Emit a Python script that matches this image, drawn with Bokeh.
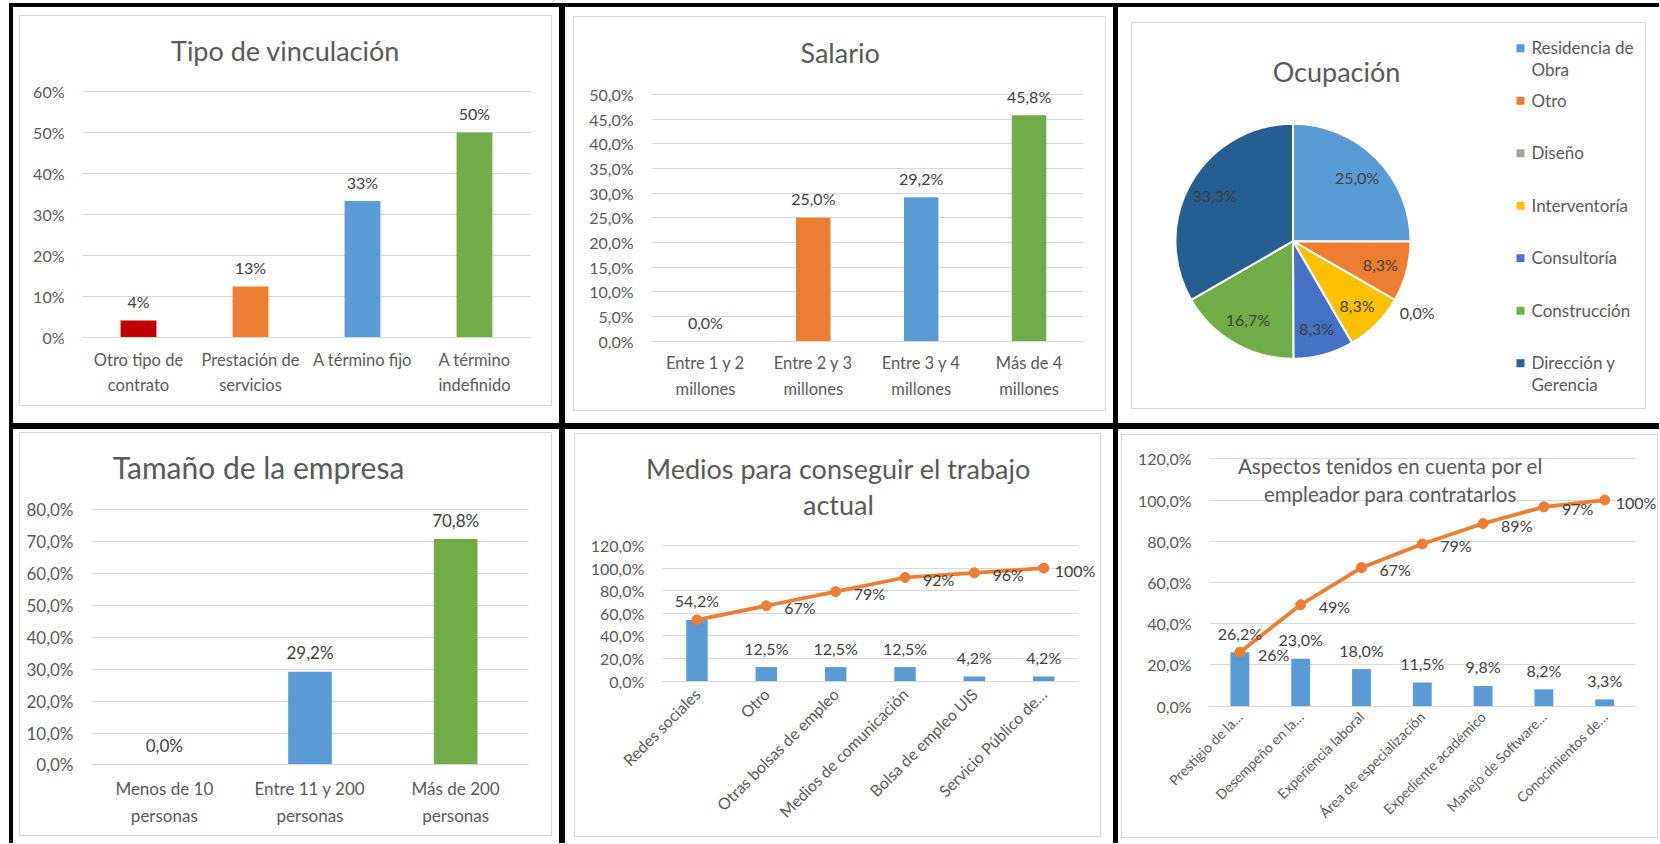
import math
from bokeh.plotting import figure
from bokeh.layouts import row, column
from bokeh.models import (ColumnDataSource, Spacer, Label, LabelSet, Range1d, Plot, Grid,
                          FixedTicker, CustomJSTickFormatter)
from bokeh.core.properties import value
from bokeh.embed import file_html
from bokeh.resources import INLINE

FONT = "Lato"
TXT = "#595959"
LBL = "#404040"
GRID = "#D9D9D9"
ORANGE = "#ED7D31"

# ---------------- data ----------------
vinc_cats = ["Otro tipo de\ncontrato", "Prestación de\nservicios", "A término fijo", "A término\nindefinido"]
vinc_vals = [0.042, 0.125, 0.333, 0.500]
vinc_colors = ["#C00000", "#ED7D31", "#5B9BD5", "#70AD47"]

sal_cats = ["Entre 1 y 2\nmillones", "Entre 2 y 3\nmillones", "Entre 3 y 4\nmillones", "Más de 4\nmillones"]
sal_vals = [0.0, 0.250, 0.292, 0.458]
sal_colors = ["#C00000", "#ED7D31", "#5B9BD5", "#70AD47"]

ocup_cats = ["Residencia de\nObra", "Otro", "Diseño", "Interventoría", "Consultoría",
             "Construcción", "Dirección y\nGerencia"]
ocup_vals = [0.250, 0.083, 0.0, 0.083, 0.083, 0.167, 0.333]
ocup_colors = ["#5B9BD5", "#ED7D31", "#A5A5A5", "#FFC000", "#4472C4", "#70AD47", "#255E91"]

tam_cats = ["Menos de 10\npersonas", "Entre 11 y 200\npersonas", "Más de 200\npersonas"]
tam_vals = [0.0, 0.292, 0.708]
tam_colors = ["#ED7D31", "#5B9BD5", "#70AD47"]

med_cats = ["Redes sociales", "Otro", "Otras bolsas de empleo", "Medios de comunicación",
            "Bolsa de empleo UIS", "Servicio Público de…"]
med_vals = [0.542, 0.125, 0.125, 0.125, 0.042, 0.042]
med_cum = [0.542, 0.667, 0.792, 0.917, 0.958, 1.000]

asp_cats = ["Prestigio de la…", "Desempeño en la…", "Experiencia laboral", "Área de especialización",
            "Expediente académico", "Manejo de Software…", "Conocimientos de…"]
asp_vals = [0.262, 0.230, 0.180, 0.115, 0.098, 0.082, 0.033]
asp_cum = [0.262, 0.492, 0.672, 0.787, 0.886, 0.967, 1.000]


def pct0(v):
    return f"{math.floor(v * 100 + 0.5 + 1e-9)}%"


def pct1(v):
    return f"{math.floor(v * 1000 + 0.5 + 1e-9) / 10:.1f}".replace(".", ",") + "%"


FRAME_ALIGN = {"frame_align": False} if "frame_align" in Plot.properties() else {}
HAS_CROSS = "cross_bounds" in Grid.properties()


def ring_style(cell, ring_abs):
    X0, Y0, W, H = cell
    L, T, Rr, B = ring_abs
    l = L - X0
    t = T - Y0
    r = (X0 + W - 1) - Rr
    b = (Y0 + H - 1) - B
    w, g = [], []
    if l >= 0:
        w.append(f"inset {l}px 0 0 0 #ffffff"); g.append(f"inset {l + 1}px 0 0 0 {GRID}")
    if r >= 0:
        w.append(f"inset -{r}px 0 0 0 #ffffff"); g.append(f"inset -{r + 1}px 0 0 0 {GRID}")
    if t >= 0:
        w.append(f"inset 0 {t}px 0 0 #ffffff"); g.append(f"inset 0 {t + 1}px 0 0 {GRID}")
    if b >= 0:
        w.append(f"inset 0 -{b}px 0 0 #ffffff"); g.append(f"inset 0 -{b + 1}px 0 0 {GRID}")
    return {"background-color": "#ffffff", "box-shadow": ", ".join(w + g)}


def bar_panel(cell, plot_box, ring_abs, cats, vals, colors, labels, ymax, ystep, ydec, bar_w,
              title, tpos, tsize, tlh, cat_size, cat_standoff, txt_size=16, rotate=False,
              cum=None, cum_labels=None):
    X0, Y0, W, H = cell
    ax0, ay_top, ax1, ay0 = plot_box       # plot area in page pixels
    N = len(cats)
    ppx = (ax1 - ax0) / N                  # pixels per category
    ppy = (ay0 - ay_top) / ymax            # pixels per unit of value
    x_rng = Range1d(-(ax0 - X0) / ppx, (X0 + W - ax0) / ppx)
    y_rng = Range1d(-(Y0 + H - ay0) / ppy, (ay0 - Y0) / ppy)

    p = figure(width=W, height=H, x_range=x_rng, y_range=y_rng,
               output_backend="svg", toolbar_location=None, min_border=0,
               border_fill_color=None, background_fill_color=None, outline_line_color=None,
               styles=ring_style(cell, ring_abs), **FRAME_ALIGN)
    xs = [i + 0.5 for i in range(N)]
    src = ColumnDataSource(dict(x=xs, cat=cats, val=vals, color=colors, lbl=labels))
    p.vbar(x="x", top="val", width=bar_w, fill_color="color", line_color=None, source=src)
    p.add_layout(LabelSet(x="x", y="val", text="lbl", source=src, y_offset=19,
                          text_align="center", text_baseline="middle",
                          text_font=value(FONT), text_font_size=value(f"{txt_size}px"),
                          text_color=LBL))
    if cum is not None:
        xoff = [18] * (N - 1) + [11]
        src2 = ColumnDataSource(dict(x=xs, cum=cum, lbl=cum_labels, xoff=xoff))
        p.line(x="x", y="cum", source=src2, line_color=ORANGE, line_width=3.75)
        p.scatter(x="x", y="cum", source=src2, size=10, fill_color=ORANGE, line_color=ORANGE)
        p.add_layout(LabelSet(x="x", y="cum", text="lbl", source=src2, x_offset="xoff",
                              y_offset=-2, text_align="left", text_baseline="middle",
                              text_font=value(FONT), text_font_size=value(f"{txt_size}px"),
                              text_color=LBL))
    n = int(round(ymax / ystep))
    ticks = [round(i * ystep, 4) for i in range(n + 1)]
    p.yaxis.ticker = FixedTicker(ticks=ticks)
    p.yaxis.bounds = (0, ymax)
    p.yaxis.fixed_location = 0
    p.ygrid.ticker = FixedTicker(ticks=ticks)
    p.ygrid.grid_line_color = GRID
    if HAS_CROSS:
        p.ygrid.cross_bounds = (0, N)
    p.yaxis.formatter = CustomJSTickFormatter(
        code=f"return (tick*100).toFixed({ydec}).replace('.', ',') + '%';")
    p.xgrid.visible = False
    p.xaxis.ticker = FixedTicker(ticks=xs)
    p.xaxis.bounds = (0, N)
    p.xaxis.fixed_location = 0
    p.xaxis.formatter = CustomJSTickFormatter(args=dict(cats=cats),
                                              code="return cats[Math.round(tick - 0.5)];")
    for ax in (p.xaxis[0], p.yaxis[0]):
        ax.major_tick_line_color = None
        ax.minor_tick_line_color = None
        ax.major_tick_out = 0
        ax.major_tick_in = 0
        ax.minor_tick_out = 0
        ax.minor_tick_in = 0
        ax.major_label_text_font = FONT
        ax.major_label_text_color = TXT
    p.yaxis.axis_line_color = None
    p.yaxis.major_label_text_font_size = f"{txt_size}px"
    p.yaxis.major_label_standoff = 18
    p.xaxis.axis_line_color = GRID
    p.xaxis.major_label_text_font_size = f"{cat_size}px"
    p.xaxis.major_label_standoff = cat_standoff
    p.xaxis.major_label_text_line_height = 1.27
    if rotate:
        p.xaxis.major_label_orientation = math.pi / 4
    tx, ty = tpos
    p.add_layout(Label(x=tx - X0, y=H - (ty - Y0), x_units="screen", y_units="screen",
                       text=title, text_align="center", text_baseline="middle", text_font=FONT,
                       text_font_size=f"{tsize}px", text_color=TXT, text_line_height=tlh))
    return p


# ---------------- cells (x0, y0, width, height) in page pixels ----------------
C1 = (13, 7, 546, 416)
C2 = (565, 7, 548, 416)
C3 = (1118, 7, 541, 416)
C4 = (13, 429, 546, 414)
C5 = (565, 429, 548, 414)
C6 = (1118, 429, 541, 414)

p1 = bar_panel(C1, (82, 91, 530, 337.3), (19, 15, 551, 405), vinc_cats, vinc_vals, vinc_colors,
               [pct0(v) for v in vinc_vals], 0.6, 0.1, 0, 0.32,
               "Tipo de vinculación", (285, 50), 27, 1.2, 16.5, 12)

p2 = bar_panel(C2, (651, 94, 1082.5, 340.7), (573, 16, 1105, 410), sal_cats, sal_vals, sal_colors,
               [pct1(v) for v in sal_vals], 0.5, 0.05, 1, 0.32,
               "Salario", (839.6, 52.3), 27, 1.2, 16.5, 12)

p4 = bar_panel(C4, (91, 509.2, 528, 764.4), (19, 432, 551, 835), tam_cats, tam_vals, tam_colors,
               [pct1(v) for v in tam_vals], 0.8, 0.1, 1, 0.30,
               "Tamaño de la empresa", (258, 466.9), 30, 1.2, 17, 13, txt_size=17)

p5 = bar_panel(C5, (661.8, 545, 1077.9, 680.7), (574, 433, 1100, 836), med_cats, med_vals,
               ["#5B9BD5"] * len(med_cats), [pct1(v) for v in med_vals], 1.2, 0.2, 1, 0.31,
               "Medios para conseguir el trabajo\nactual", (837.9, 486.3), 27, 1.08, 16, 10,
               rotate=True, cum=med_cum, cum_labels=[""] + [pct0(v) for v in med_cum[1:]])

p6 = bar_panel(C6, (1209, 458.3, 1634.6, 705.7), (1121, 434, 1657, 837), asp_cats, asp_vals,
               ["#5B9BD5"] * len(asp_cats), [pct1(v) for v in asp_vals], 1.2, 0.2, 1, 0.31,
               "Aspectos tenidos en cuenta por el\nempleador para contratarlos", (1389.8, 479.5),
               20.5, 1.2, 14, 8, rotate=True,
               cum=asp_cum, cum_labels=[pct0(v) for v in asp_cum])

# ---------------- pie panel (frame = whole figure, 1 data unit = 1 px) ----------------
X3, Y3, PW, PH = C3
PCX, PCY = 1292.5, 240.7          # pie centre, page pixels
R = 117.5
cx, cy = PCX - X3, PCY - Y3
p3 = figure(width=PW, height=PH, x_range=Range1d(-cx, PW - cx), y_range=Range1d(cy - PH, cy),
            output_backend="svg", toolbar_location=None, min_border=0,
            x_axis_location=None, y_axis_location=None,
            border_fill_color=None, background_fill_color=None, outline_line_color=None,
            styles=ring_style(C3, (1131, 22, 1645, 408)), **FRAME_ALIGN)
p3.xgrid.visible = False
p3.ygrid.visible = False

total = sum(ocup_vals)
cum = [0.0]
for v in ocup_vals:
    cum.append(cum[-1] + v)
starts = [math.pi / 2 - 2 * math.pi * c / total for c in cum[:-1]]
ends = [math.pi / 2 - 2 * math.pi * c / total for c in cum[1:]]
mids = [2 * math.pi * (a + b) / 2 / total for a, b in zip(cum[:-1], cum[1:])]
rf = [0.77 if v > 0 else 1.22 for v in ocup_vals]
lx = [f * R * math.sin(m) for f, m in zip(rf, mids)]
ly = [f * R * math.cos(m) for f, m in zip(rf, mids)]

nz = [i for i, v in enumerate(ocup_vals) if v > 0]
wsrc = ColumnDataSource(dict(start=[starts[i] for i in nz], end=[ends[i] for i in nz],
                             color=[ocup_colors[i] for i in nz]))
p3.wedge(x=0, y=0, radius=R, start_angle="start", end_angle="end", direction="clock",
         fill_color="color", line_color="white", line_width=2, source=wsrc)
lsrc = ColumnDataSource(dict(x=lx, y=ly, lbl=[pct1(v) for v in ocup_vals]))
p3.add_layout(LabelSet(x="x", y="y", text="lbl", source=lsrc, text_align="center",
                       text_baseline="middle", text_font=value(FONT),
                       text_font_size=value("16px"), text_color=LBL))
p3.add_layout(Label(x=1336 - PCX, y=PCY - 70.7, text="Ocupación", text_align="center",
                    text_baseline="middle", text_font=FONT, text_font_size="27px", text_color=TXT))

LEG_X, LEG_TOP, LEG_STEP = 1520 - PCX, PCY - 47.7, 52.5
leg_y = [LEG_TOP - i * LEG_STEP for i in range(len(ocup_cats))]
legsrc = ColumnDataSource(dict(mx=[LEG_X] * len(ocup_cats), my=leg_y,
                               tx=[LEG_X + 11] * len(ocup_cats), ty=[y + 11 for y in leg_y],
                               name=ocup_cats, color=ocup_colors))
p3.scatter(x="mx", y="my", marker="square", size=8, fill_color="color", line_color=None,
           source=legsrc)
p3.text(x="tx", y="ty", text="name", source=legsrc, text_align="left", text_baseline="top",
        text_font=value(FONT), text_font_size=value("17px"), text_color=TXT,
        text_line_height=1.05)

# ---------------- layout ----------------
r1 = row(Spacer(width=4, height=416), p1, Spacer(width=6, height=416), p2,
         Spacer(width=5, height=416), p3)
r2 = row(Spacer(width=4, height=414), p4, Spacer(width=6, height=414), p5,
         Spacer(width=5, height=414), p6)
grid = column(Spacer(width=1650, height=4), r1, Spacer(width=1650, height=6), r2,
              styles={"background-color": "black"})
page = column(Spacer(width=1659, height=3), row(Spacer(width=9, height=840), grid))

open("out.html", "w").write(file_html(page, INLINE))
